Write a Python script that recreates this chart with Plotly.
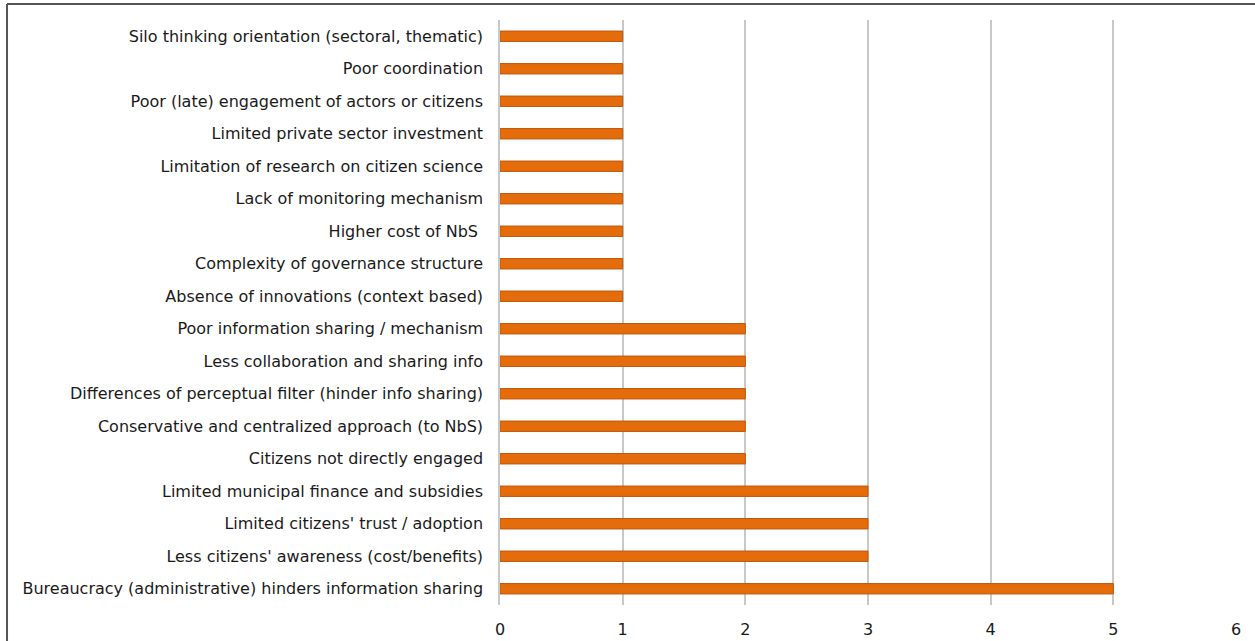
import plotly.graph_objects as go

categories = [
    "Silo thinking orientation (sectoral, thematic)",
    "Poor coordination",
    "Poor (late) engagement of actors or citizens",
    "Limited private sector investment",
    "Limitation of research on citizen science",
    "Lack of monitoring mechanism",
    "Higher cost of NbS ",
    "Complexity of governance structure",
    "Absence of innovations (context based)",
    "Poor information sharing / mechanism",
    "Less collaboration and sharing info",
    "Differences of perceptual filter (hinder info sharing)",
    "Conservative and centralized approach (to NbS)",
    "Citizens not directly engaged",
    "Limited municipal finance and subsidies",
    "Limited citizens' trust / adoption",
    "Less citizens' awareness (cost/benefits)",
    "Bureaucracy (administrative) hinders information sharing",
]
values = [1, 1, 1, 1, 1, 1, 1, 1, 1, 2, 2, 2, 2, 2, 3, 3, 3, 5]
x_ticks = [0, 1, 2, 3, 4, 5, 6]

FONT = "DejaVu Sans"

fig = go.Figure(go.Bar(
    y=categories,
    x=values,
    orientation="h",
    width=0.32,
    marker=dict(color="#E46C0A", line=dict(color="#C0560E", width=1)),
))

fig.update_layout(
    width=1255, height=641,
    margin=dict(l=500, r=19, t=20, b=36, autoexpand=False),
    paper_bgcolor="white", plot_bgcolor="white",
    showlegend=False,
    font=dict(family=FONT, size=16, color="#1a1a1a"),
    shapes=[
        dict(type="line", xref="paper", yref="paper", x0=-0.6698, x1=1.1, y0=1.0274, y1=1.0274,
             line=dict(color="#555555", width=2)),
        dict(type="line", xref="paper", yref="paper", x0=-0.6698, x1=-0.6698, y0=1.0274, y1=-0.2,
             line=dict(color="#555555", width=2)),
    ],
)
fig.update_xaxes(
    range=[0, 6], tickvals=x_ticks, showgrid=True, gridcolor="#c8c8c8", gridwidth=1.5,
    zeroline=False, showline=False, ticks="outside", ticklen=10, tickcolor="rgba(0,0,0,0)",
    tickfont=dict(size=16, color="#1a1a1a"), automargin=False,
)
fig.update_yaxes(
    categoryorder="array", categoryarray=categories, autorange="reversed",
    showgrid=False, zeroline=False, showline=True, linecolor="#c8c8c8", linewidth=1.5,
    ticks="outside", ticklen=12, tickcolor="rgba(0,0,0,0)",
    tickfont=dict(size=16, color="#1a1a1a"), automargin=False,
)

fig.write_html("out.html")
